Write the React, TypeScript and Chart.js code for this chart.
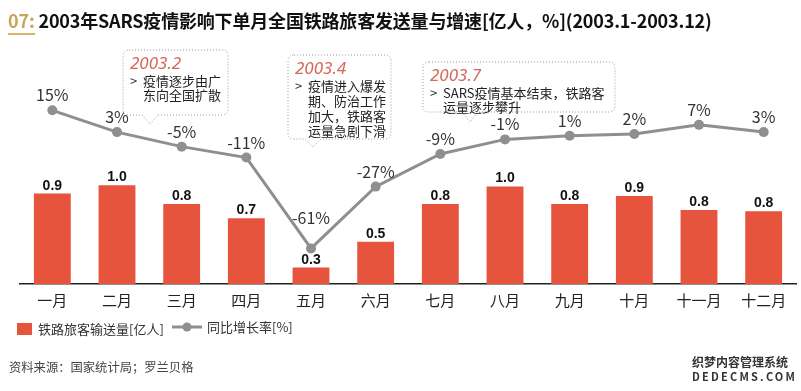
import React, { useEffect, useRef } from "react";
import { Chart, registerables } from "chart.js";

Chart.register(...registerables);

const months = ["一月", "二月", "三月", "四月", "五月", "六月", "七月", "八月", "九月", "十月", "十一月", "十二月"];
const passengers = [0.93, 1.0, 0.84, 0.72, 0.3, 0.52, 0.84, 0.99, 0.84, 0.91, 0.79, 0.78];
const growth = [15, 3, -5, -11, -61, -27, -9, -1, 1, 2, 7, 3];
const barLegend = "铁路旅客输送量[亿人]";
const lineLegend = "同比增长率[%]";
const titleNo = "07:";
const titleText = "2003年SARS疫情影响下单月全国铁路旅客发送量与增速[亿人，%](2003.1-2003.12)";
const sourceText = "资料来源：国家统计局；罗兰贝格";

const callouts = [
  { date: "2003.2", lines: ["疫情逐步由广", "东向全国扩散"], box: [123, 50, 228, 115], tip: [150, 124], lh: 14 },
  { date: "2003.4", lines: ["疫情进入爆发", "期、防治工作", "加大，铁路客", "运量急剧下滑"], box: [288, 55, 391, 139], tip: [313, 147], lh: 15 },
  { date: "2003.7", lines: ["SARS疫情基本结束，铁路客", "运量逐步攀升"], box: [423, 62, 615, 112], tip: [470, 122], lh: 14 },
];

const BAR = "#e6543d";
const LINE = "#8f8f8f";
const CJK = '"Noto Sans CJK SC", "Noto Sans", sans-serif';

function calloutPath(box: number[], tip: number[]) {
  const [x1, y1, x2, y2] = box;
  const r = 6;
  const [tx, ty] = tip;
  const b1 = tx - 8;
  const b2 = tx + 8;
  return `M ${x1 + r} ${y1} L ${x2 - r} ${y1} Q ${x2} ${y1} ${x2} ${y1 + r} L ${x2} ${y2 - r} Q ${x2} ${y2} ${x2 - r} ${y2} L ${b2} ${y2} L ${tx} ${ty} L ${b1} ${y2} L ${x1 + r} ${y2} Q ${x1} ${y2} ${x1} ${y2 - r} L ${x1} ${y1 + r} Q ${x1} ${y1} ${x1 + r} ${y1} Z`;
}

const labelPlugin = {
  id: "valueLabels",
  afterDatasetsDraw(chart: any) {
    const ctx = chart.ctx;
    ctx.save();
    const barMeta = chart.getDatasetMeta(0);
    ctx.font = 'bold 14px "Liberation Sans", Arial, sans-serif';
    ctx.fillStyle = "#111";
    ctx.textAlign = "center";
    ctx.textBaseline = "alphabetic";
    barMeta.data.forEach((el: any, i: number) => {
      ctx.fillText(passengers[i].toFixed(1), el.x, el.y - 4);
    });
    const lineMeta = chart.getDatasetMeta(1);
    const minIdx = growth.indexOf(Math.min(...growth));
    ctx.font = `16px ${CJK}`;
    ctx.fillStyle = "#333";
    ctx.textBaseline = "middle";
    lineMeta.data.forEach((el: any, i: number) => {
      const lift = i === minIdx ? 30 : 15;
      ctx.fillText(`${growth[i]}%`, el.x, el.y - lift);
    });
    ctx.restore();
  },
};

export default function App() {
  const ref = useRef<HTMLCanvasElement>(null);
  useEffect(() => {
    if (!ref.current) return;
    const chart = new Chart(ref.current, {
      type: "bar",
      data: {
        labels: months,
        datasets: [
          {
            type: "bar",
            label: barLegend,
            data: passengers,
            backgroundColor: BAR,
            yAxisID: "y",
            order: 2,
            categoryPercentage: 1,
            barPercentage: 0.57,
          },
          {
            type: "line",
            label: lineLegend,
            data: growth,
            borderColor: LINE,
            backgroundColor: LINE,
            borderWidth: 3,
            pointRadius: 5,
            pointBorderWidth: 0,
            pointBackgroundColor: LINE,
            tension: 0,
            yAxisID: "y2",
            order: 1,
          },
        ] as any,
      },
      options: {
        animation: false,
        responsive: false,
        maintainAspectRatio: false,
        layout: { padding: { left: 20, right: 1, top: 40, bottom: 75 } },
        plugins: { legend: { display: false }, tooltip: { enabled: false }, title: { display: false } },
        scales: {
          x: {
            grid: { display: false, drawTicks: false },
            border: { display: true, color: "#222", width: 1.5 },
            ticks: { color: "#222", font: { size: 15, family: CJK }, padding: 7, maxRotation: 0, autoSkip: false },
          },
          y: { display: false, min: 0.16, max: 0.16 + 243 / 117 },
          y2: { display: false, min: -80.6, max: 53.7 },
        },
      },
      plugins: [labelPlugin],
    });
    return () => chart.destroy();
  }, []);

  return (
    <div style={{ position: "fixed", left: 0, top: 0, width: 801, height: 391, background: "#fff", overflow: "hidden" }}>
      <canvas ref={ref} width={801} height={391} style={{ position: "absolute", left: 0, top: 0, width: 801, height: 391 }} />
      <div
        style={{
          position: "absolute",
          left: 8,
          top: 7,
          fontFamily: CJK,
          fontWeight: 700,
          fontSize: 18,
          lineHeight: "26px",
          whiteSpace: "nowrap",
          color: "#111",
          letterSpacing: -0.18,
        }}
      >
        <span style={{ color: "#c9a55a", borderBottom: "2px solid #d9b56a", paddingBottom: 0 }}>{titleNo}</span>
        <span> {titleText}</span>
      </div>
      <svg width={801} height={391} style={{ position: "absolute", left: 0, top: 0 }}>
        {callouts.map((c, k) => (
          <g key={k}>
            <path d={calloutPath(c.box, c.tip)} fill="#fff" stroke="#9a9a9a" strokeWidth={1} strokeDasharray="1 2" />
            <text x={c.box[0] + 7} y={c.box[1] + 19} fill="#d4695c" fontStyle="italic" fontSize={17} fontFamily='"Noto Sans", sans-serif'>
              {c.date}
            </text>
            <text x={c.box[0] + 7} y={c.box[1] + 36} fill="#333" fontSize={13} fontFamily={CJK}>
              {">"}
            </text>
            {c.lines.map((ln, j) => (
              <text key={j} x={c.box[0] + 20} y={c.box[1] + 36 + j * c.lh} fill="#222" fontSize={13} fontFamily={CJK}>
                {ln}
              </text>
            ))}
          </g>
        ))}
        <rect x={17} y={323} width={15} height={12} fill={BAR} />
        <line x1={172} y1={327} x2={202} y2={327} stroke={LINE} strokeWidth={3} />
        <circle cx={187} cy={327} r={4.5} fill={LINE} />
      </svg>
      <div style={{ position: "absolute", left: 38, top: 320, fontFamily: CJK, fontSize: 13, lineHeight: "18px", color: "#333", whiteSpace: "nowrap" }}>
        {barLegend}
      </div>
      <div style={{ position: "absolute", left: 207, top: 318, fontFamily: CJK, fontSize: 13, lineHeight: "18px", color: "#333", whiteSpace: "nowrap" }}>
        {lineLegend}
      </div>
      <div style={{ position: "absolute", left: 9, top: 359, fontFamily: CJK, fontSize: 12.3, lineHeight: "16px", color: "#444", whiteSpace: "nowrap" }}>
        {sourceText}
      </div>
      <div
        style={{
          position: "absolute",
          left: 692,
          top: 355,
          fontFamily: CJK,
          fontWeight: 700,
          fontSize: 12,
          lineHeight: "14px",
          color: "#333",
          whiteSpace: "nowrap",
          textShadow: "0 0 2px #fff",
          letterSpacing: 0,
        }}
      >
        <div>织梦内容管理系统</div>
        <div style={{ letterSpacing: 2.2, fontSize: 11 }}>DEDECMS.COM</div>
      </div>
    </div>
  );
}
